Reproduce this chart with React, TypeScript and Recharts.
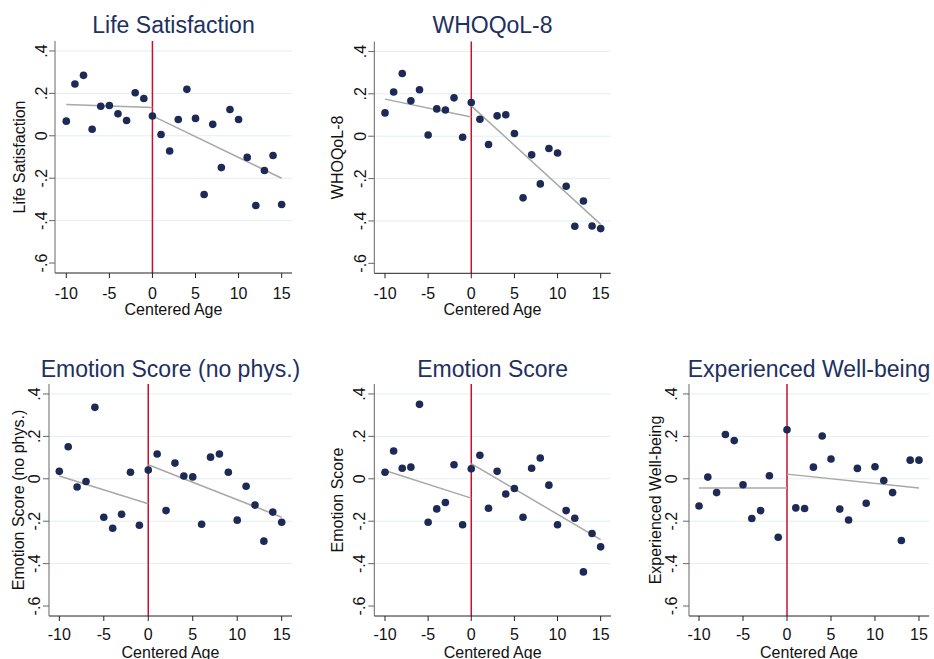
import React from "react";
import { ScatterChart, Scatter, XAxis, YAxis, ReferenceLine } from "recharts";

// ---------- data ----------
const ages = [-10, -9, -8, -7, -6, -5, -4, -3, -2, -1, 0, 1, 2, 3, 4, 5, 6, 7, 8, 9, 10, 11, 12, 13, 14, 15];

const lifeSatisfaction = [0.069, 0.244, 0.285, 0.031, 0.139, 0.143, 0.104, 0.072, 0.203, 0.176, 0.093, 0.006, -0.072, 0.077, 0.219, 0.082, -0.277, 0.054, -0.15, 0.124, 0.077, -0.102, -0.329, -0.164, -0.093, -0.324];
const lifeFitLeft = [0.148, 0.134];
const lifeFitRight = [0.094, -0.2];

const whoqol = [0.11, 0.209, 0.296, 0.167, 0.219, 0.006, 0.129, 0.124, 0.181, -0.005, 0.159, 0.08, -0.039, 0.096, 0.101, 0.013, -0.291, -0.088, -0.225, -0.058, -0.079, -0.236, -0.425, -0.306, -0.424, -0.436];
const whoqolFitLeft = [0.175, 0.091];
const whoqolFitRight = [0.143, -0.416];

const emotionNoPhys = [0.035, 0.151, -0.039, -0.013, 0.337, -0.181, -0.233, -0.167, 0.031, -0.219, 0.041, 0.117, -0.15, 0.074, 0.013, 0.009, -0.214, 0.102, 0.117, 0.031, -0.195, -0.035, -0.124, -0.294, -0.157, -0.205];
const emotionNoPhysFitLeft = [0.013, -0.118];
const emotionNoPhysFitRight = [0.066, -0.181];

const emotionScore = [0.031, 0.131, 0.05, 0.055, 0.351, -0.205, -0.142, -0.112, 0.066, -0.217, 0.047, 0.111, -0.139, 0.035, -0.072, -0.046, -0.181, 0.05, 0.098, -0.03, -0.217, -0.15, -0.186, -0.439, -0.258, -0.321];
const emotionFitLeft = [0.039, -0.091];
const emotionFitRight = [0.072, -0.287];

const experienced = [-0.128, 0.008, -0.065, 0.209, 0.18, -0.028, -0.187, -0.15, 0.014, -0.276, 0.231, -0.137, -0.14, 0.055, 0.202, 0.093, -0.143, -0.194, 0.049, -0.115, 0.057, -0.008, -0.065, -0.291, 0.088, 0.088];
const experiencedFitLeft = [-0.043, -0.043];
const experiencedFitRight = [0.022, -0.043];

const xTicks = [-10, -5, 0, 5, 10, 15];
const yTicks = [-0.6, -0.4, -0.2, 0, 0.2, 0.4];
const gridValues = [-0.4, -0.2, 0, 0.2, 0.4];
const breakAge = 0;
const fitStart = -10;
const fitEnd = 15;
const xTitle = "Centered Age";

// ---------- style ----------
const FONT = "'Liberation Sans', Arial, Helvetica, sans-serif";
const NAVY = "#1c2a55";
const TITLE = "#213060";
const RED = "#c8102e";
const FIT = "#a8a8a8";
const GRID = "#e4eeef";
const Y_DOMAIN: [number, number] = [-0.647, 0.447];

const fmt = (v: number) => {
  if (Math.abs(v) < 1e-9) return "0";
  const s = Math.abs(v).toFixed(1).replace(/^0/, "");
  return (v < 0 ? "-" : "") + s;
};

type Layout = {
  left: number; top: number; w: number; h: number;
  axisX: number; plotRight: number; plotTop: number; plotBottom: number;
  xDomain: [number, number];
  tickOff: number; ylabOff: number; xTickY: number; xlabY: number; titleY: number;
};

function Panel({ L, values, fitL, fitR, title, ylabel }: { L: Layout; values: number[]; fitL: number[]; fitR: number[]; title: string; ylabel: string }) {
  const data = ages.map((a, i) => ({ x: a, y: values[i] }));
  const plotLeft = L.axisX - L.left;
  const plotTop = L.plotTop - L.top;
  const plotBottom = L.plotBottom - L.top;
  const plotRight = L.plotRight - L.left;
  const cx = (plotLeft + plotRight) / 2;
  const cy = (plotTop + plotBottom) / 2;
  const ylabX = plotLeft - L.ylabOff;

  const YTick = (p: any) => {
    const tx = p.x + 6 - L.tickOff;
    return (
      <text x={tx} y={p.y} transform={`rotate(-90 ${tx} ${p.y})`} textAnchor="middle" dominantBaseline="central" fontSize={16} fill="#111" fontFamily={FONT}>
        {fmt(p.payload.value)}
      </text>
    );
  };
  const XTick = (p: any) => {
    const ty = plotBottom + (L.xTickY - L.plotBottom);
    return (
      <text x={p.x} y={ty} textAnchor="middle" dominantBaseline="central" fontSize={16} fill="#111" fontFamily={FONT}>
        {p.payload.value}
      </text>
    );
  };

  return (
    <div style={{ position: "absolute", left: L.left, top: L.top, width: L.w, height: L.h }}>
      <ScatterChart width={L.w} height={L.h} margin={{ top: plotTop, right: L.w - plotRight, bottom: 0, left: 0 }}>
        <XAxis type="number" dataKey="x" domain={L.xDomain} ticks={xTicks} allowDataOverflow interval={0}
          height={L.h - plotBottom} stroke="#222" tickSize={5} tickMargin={0} tick={XTick} />
        <YAxis type="number" dataKey="y" domain={Y_DOMAIN} ticks={yTicks} allowDataOverflow interval={0}
          width={plotLeft} stroke="#666" tickSize={6} tickMargin={0} tick={YTick} />
        {gridValues.map((v) => (
          <ReferenceLine key={v} y={v} stroke={GRID} strokeWidth={1} />
        ))}
        <ReferenceLine x={breakAge} stroke={RED} strokeWidth={1.5} />
        <ReferenceLine segment={[{ x: fitStart, y: fitL[0] }, { x: breakAge, y: fitL[1] }]} stroke={FIT} strokeWidth={1.5} />
        <ReferenceLine segment={[{ x: breakAge, y: fitR[0] }, { x: fitEnd, y: fitR[1] }]} stroke={FIT} strokeWidth={1.5} />
        <Scatter data={data} fill={NAVY} isAnimationActive={false}
          shape={(p: any) => <circle cx={p.cx} cy={p.cy} r={3.8} fill={NAVY} />} />
      </ScatterChart>
      <svg width={L.w} height={L.h} style={{ position: "absolute", left: 0, top: 0, pointerEvents: "none", overflow: "visible" }}>
        <text x={cx} y={L.titleY - L.top} textAnchor="middle" dominantBaseline="central" fontSize={23} fill={TITLE} fontFamily={FONT}>{title}</text>
        <text x={ylabX} y={cy} transform={`rotate(-90 ${ylabX} ${cy})`} textAnchor="middle" dominantBaseline="central" fontSize={16} fill="#111" fontFamily={FONT}>{ylabel}</text>
        <text x={cx} y={L.xlabY - L.top} textAnchor="middle" dominantBaseline="central" fontSize={16} fill="#111" fontFamily={FONT}>{xTitle}</text>
      </svg>
    </div>
  );
}

const L1: Layout = { left: 0, top: 0, w: 310, h: 330, axisX: 55, plotRight: 292, plotTop: 41, plotBottom: 273, xDomain: [-11.31, 16.2], tickOff: 13, ylabOff: 36, xTickY: 293.5, xlabY: 309.5, titleY: 25 };
const L2: Layout = { left: 310, top: 0, w: 310, h: 330, axisX: 374.3, plotRight: 610.7, plotTop: 41.5, plotBottom: 273.3, xDomain: [-11.24, 16.16], tickOff: 14, ylabOff: 36.8, xTickY: 293, xlabY: 309.5, titleY: 25 };
const L3: Layout = { left: 0, top: 330, w: 310, h: 329, axisX: 49, plotRight: 292, plotTop: 384, plotBottom: 616, xDomain: [-11.16, 16.16], tickOff: 14.7, ylabOff: 30.2, xTickY: 634, xlabY: 652.5, titleY: 368.7 };
const L4: Layout = { left: 310, top: 330, w: 310, h: 329, axisX: 374.3, plotRight: 611, plotTop: 384, plotBottom: 616, xDomain: [-11.24, 16.2], tickOff: 14.3, ylabOff: 37.3, xTickY: 634, xlabY: 652.5, titleY: 368.7 };
const L5: Layout = { left: 620, top: 330, w: 314, h: 329, axisX: 689, plotRight: 929, plotTop: 384, plotBottom: 616, xDomain: [-11.14, 16.14], tickOff: 17.3, ylabOff: 33.5, xTickY: 634, xlabY: 652.5, titleY: 368.7 };

export default function App() {
  return (
    <div style={{ position: "absolute", left: 0, top: 0, width: 934, height: 659, background: "#fff", overflow: "hidden" }}>
      <Panel L={L1} values={lifeSatisfaction} fitL={lifeFitLeft} fitR={lifeFitRight} title="Life Satisfaction" ylabel="Life Satisfaction" />
      <Panel L={L2} values={whoqol} fitL={whoqolFitLeft} fitR={whoqolFitRight} title="WHOQoL-8" ylabel="WHOQoL-8" />
      <Panel L={L3} values={emotionNoPhys} fitL={emotionNoPhysFitLeft} fitR={emotionNoPhysFitRight} title="Emotion Score (no phys.)" ylabel="Emotion Score (no phys.)" />
      <Panel L={L4} values={emotionScore} fitL={emotionFitLeft} fitR={emotionFitRight} title="Emotion Score" ylabel="Emotion Score" />
      <Panel L={L5} values={experienced} fitL={experiencedFitLeft} fitR={experiencedFitRight} title="Experienced Well-being" ylabel="Experienced Well-being" />
    </div>
  );
}
